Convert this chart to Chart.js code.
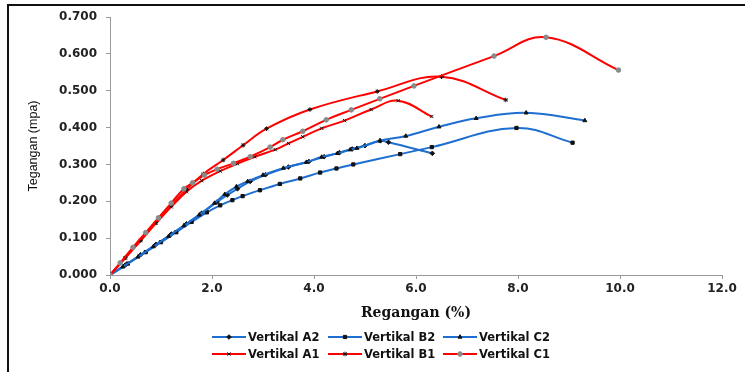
<!DOCTYPE html>
<html>
<head>
<meta charset="utf-8">
<script src="https://cdn.jsdelivr.net/npm/chart.js@4.4.1/dist/chart.umd.min.js"></script>
<style>
  html, body { margin: 0; padding: 0; background: #fff; }
</style>
</head>
<body>
<canvas id="chart" width="745" height="372"></canvas>
<script>
// Regangan (%) / Tegangan (mpa)
const xA2 = [0, 0.3, 0.6, 0.9, 1.2, 1.5, 1.8, 2.1, 2.3, 2.5, 2.75, 3.05, 3.5, 3.9, 4.2, 4.5, 4.75, 5.0, 5.3, 5.46, 6.32];
const yA2 = [0, 0.027, 0.055, 0.083, 0.111, 0.139, 0.168, 0.198, 0.217, 0.234, 0.254, 0.272, 0.293, 0.308, 0.321, 0.332, 0.342, 0.351, 0.364, 0.360, 0.330];

const xB2 = [0, 0.35, 0.7, 1.0, 1.3, 1.6, 1.9, 2.16, 2.4, 2.6, 2.94, 3.33, 3.73, 4.12, 4.44, 4.77, 5.69, 6.31, 7.97, 9.07];
const yB2 = [0, 0.031, 0.062, 0.089, 0.116, 0.144, 0.170, 0.189, 0.203, 0.214, 0.230, 0.247, 0.262, 0.278, 0.289, 0.300, 0.328, 0.347, 0.399, 0.359];

const xC2 = [0, 0.25, 0.55, 0.85, 1.15, 1.45, 1.75, 2.05, 2.25, 2.48, 2.7, 3.0, 3.4, 3.85, 4.15, 4.46, 4.71, 4.84, 5.29, 5.8, 6.45, 7.18, 8.16, 9.31];
const yC2 = [0, 0.022, 0.049, 0.077, 0.105, 0.134, 0.163, 0.195, 0.219, 0.240, 0.254, 0.271, 0.290, 0.306, 0.320, 0.330, 0.340, 0.344, 0.364, 0.377, 0.402, 0.425, 0.440, 0.419];

const xA1 = [0, 0.3, 0.6, 0.9, 1.2, 1.5, 1.8, 2.16, 2.5, 2.84, 3.24, 3.5, 3.78, 4.15, 4.6, 5.12, 5.65, 6.31];
const yA1 = [0, 0.046, 0.093, 0.140, 0.185, 0.226, 0.256, 0.282, 0.302, 0.321, 0.340, 0.357, 0.375, 0.398, 0.419, 0.449, 0.473, 0.430];

const xB1 = [0, 0.3, 0.6, 0.9, 1.2, 1.5, 1.83, 2.22, 2.61, 3.07, 3.92, 5.24, 6.5, 7.76];
const yB1 = [0, 0.047, 0.094, 0.142, 0.188, 0.232, 0.274, 0.312, 0.352, 0.397, 0.449, 0.498, 0.538, 0.475];

const xC1 = [0, 0.2, 0.45, 0.7, 0.95, 1.2, 1.45, 1.62, 1.85, 2.1, 2.42, 2.75, 3.14, 3.39, 3.78, 4.24, 4.73, 5.29, 5.96, 7.53, 8.55, 9.97];
const yC1 = [0, 0.033, 0.075, 0.115, 0.155, 0.195, 0.234, 0.250, 0.271, 0.287, 0.303, 0.321, 0.347, 0.367, 0.390, 0.421, 0.448, 0.478, 0.513, 0.594, 0.645, 0.556];

const seriesNames = ["Vertikal A2", "Vertikal B2", "Vertikal C2", "Vertikal A1", "Vertikal B1", "Vertikal C1"];

const BLUE = "#1f6fd1";
const RED = "#ff0000";

function pts(xs, ys) {
  return xs.map((x, i) => ({ x, y: ys[i] }));
}

function series(i, xs, ys, color, style, markColor, order) {
  return {
    label: seriesNames[i],
    data: pts(xs, ys),
    borderColor: color,
    backgroundColor: color,
    borderWidth: 2,
    showLine: true,
    tension: 0.4,
    pointStyle: style,
    pointRadius: 2.3,
    pointBorderWidth: 1,
    pointBackgroundColor: markColor,
    pointBorderColor: markColor,
    order
  };
}

// frame edges and the two-row legend under the plot
const frameAndLegend = {
  id: "frameAndLegend",
  afterDraw(chart) {
    const ctx = chart.ctx;
    ctx.save();
    ctx.strokeStyle = "#111";
    ctx.lineWidth = 2;
    ctx.beginPath();
    ctx.moveTo(8, 372);
    ctx.lineTo(8, 5);
    ctx.lineTo(745, 5);
    ctx.stroke();

    ctx.font = "bold 11.5px 'DejaVu Sans'";
    ctx.textBaseline = "middle";
    const rows = [[0, 1, 2], [3, 4, 5]];
    const rowY = [337, 354];
    const colX = [212, 328, 443];
    rows.forEach((row, r) => {
      row.forEach((i, c) => {
        const ds = chart.data.datasets[i];
        const x = colX[c], y = rowY[r];
        ctx.strokeStyle = ds.borderColor;
        ctx.lineWidth = 2;
        ctx.beginPath();
        ctx.moveTo(x, y);
        ctx.lineTo(x + 34, y);
        ctx.stroke();
        ctx.fillStyle = ds.pointBackgroundColor;
        ctx.strokeStyle = ds.pointBorderColor;
        ctx.lineWidth = 1;
        Chart.helpers.drawPoint(ctx, { pointStyle: ds.pointStyle, radius: 2.3, borderWidth: 1, rotation: 0 }, x + 17, y);
        ctx.fillStyle = "#111";
        ctx.fillText(ds.label, x + 36, y + 1);
      });
    });
    ctx.restore();
  }
};

new Chart(document.getElementById("chart"), {
  type: "scatter",
  data: {
    datasets: [
      series(0, xA2, yA2, BLUE, "rectRot", "#111", 6),
      series(1, xB2, yB2, BLUE, "rect", "#111", 5),
      series(2, xC2, yC2, BLUE, "triangle", "#111", 4),
      series(3, xA1, yA1, RED, "crossRot", "#111", 3),
      series(4, xB1, yB1, RED, "star", "#111", 2),
      series(5, xC1, yC1, RED, "circle", "#8a8a8a", 1)
    ]
  },
  options: {
    responsive: false,
    animation: false,
    layout: { padding: { left: 8, top: 17, right: 23, bottom: 50 } },
    plugins: {
      legend: { display: false },
      tooltip: { enabled: false }
    },
    scales: {
      x: {
        type: "linear",
        min: 0,
        max: 12,
        ticks: {
          stepSize: 2,
          callback: v => v.toFixed(1),
          font: { family: "DejaVu Sans", weight: "bold", size: 12 },
          color: "#222",
          padding: 3,
          maxRotation: 0
        },
        grid: { drawOnChartArea: false, drawTicks: true, tickLength: 4, color: "#999" },
        border: { color: "#999", width: 1 },
        title: {
          display: true,
          text: "Regangan (%)",
          font: { family: "DejaVu Serif", weight: "bold", size: 14 },
          color: "#111",
          padding: { top: 0, bottom: 0 }
        },
        afterFit(s) { s.height = 47; }
      },
      y: {
        min: 0,
        max: 0.7,
        ticks: {
          stepSize: 0.1,
          callback: v => v.toFixed(3),
          font: { family: "DejaVu Sans", weight: "bold", size: 12 },
          color: "#222",
          padding: 9
        },
        grid: { drawOnChartArea: false, drawTicks: true, tickLength: 4, color: "#999" },
        border: { color: "#999", width: 1 },
        title: {
          display: true,
          text: "Tegangan (mpa)",
          font: { family: "'Liberation Sans Narrow', 'Liberation Sans'", size: 12.5 },
          color: "#111",
          padding: { top: 18, bottom: 0 }
        },
        afterFit(s) { s.width = 102; }
      }
    }
  },
  plugins: [frameAndLegend]
});
</script>
</body>
</html>
